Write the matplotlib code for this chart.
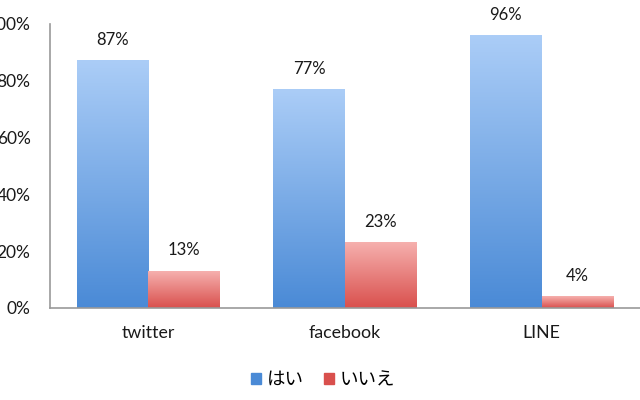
import numpy as np
import matplotlib.pyplot as plt
from matplotlib.patches import Patch
from matplotlib.colors import LinearSegmentedColormap

plt.rcParams['font.family'] = ['Lato', 'Noto Sans CJK JP', 'DejaVu Sans']

categories = ['twitter', 'facebook', 'LINE']
yes_values = [87, 77, 96]
no_values = [13, 23, 4]
series_names = ['はい', 'いいえ']
y_ticks = [0, 20, 40, 60, 80, 100]

blue_top, blue_bottom = '#abcdf7', '#4a8ad6'
red_top, red_bottom = '#f6b0ae', '#d9504d'

fig = plt.figure(figsize=(6.4, 4.0), dpi=100)
ax = fig.add_axes([50 / 640, 92 / 400, 590 / 640, 284 / 400])

x = np.arange(len(categories))
w = 0.365
bars_yes = ax.bar(x - w / 2, yes_values, w, color='none')
bars_no = ax.bar(x + w / 2, no_values, w, color='none')


def gradient_fill(bars, top, bottom):
    # vertical gradient inside each bar, like the Excel style
    cmap = LinearSegmentedColormap.from_list('g', [bottom, top])
    grad = np.linspace(0, 1, 256).reshape(-1, 1)
    for b in bars:
        x0, w0, h0 = b.get_x(), b.get_width(), b.get_height()
        ax.imshow(grad, extent=(x0, x0 + w0, 0, h0), origin='lower',
                  aspect='auto', cmap=cmap, zorder=2)


gradient_fill(bars_yes, blue_top, blue_bottom)
gradient_fill(bars_no, red_top, red_bottom)

for bars, vals in ((bars_yes, yes_values), (bars_no, no_values)):
    for b, v in zip(bars, vals):
        ax.text(b.get_x() + b.get_width() / 2, v + 4.5, f'{v}%',
                ha='center', va='bottom', fontsize=12, color='#1a1a1a')

ax.set_xlim(-0.5, len(categories) - 0.5)
ax.set_ylim(0, 100)
ax.set_yticks(y_ticks)
ax.set_yticklabels([f'{t}%' for t in y_ticks], fontsize=12.5)
ax.set_xticks(x)
ax.set_xticklabels(categories, fontsize=12.8)
ax.tick_params(length=0, colors='#1a1a1a')
ax.tick_params(axis='y', pad=14)
ax.tick_params(axis='x', pad=12)

for s in ['top', 'right']:
    ax.spines[s].set_visible(False)
for s in ['left', 'bottom']:
    ax.spines[s].set_color('#999999')
    ax.spines[s].set_linewidth(1.2)

handles = [Patch(color=blue_bottom), Patch(color=red_bottom)]
fig.legend(handles, series_names, loc='center', bbox_to_anchor=(0.505, 0.05),
           ncol=2, frameon=False, fontsize=13.3, handlelength=0.55,
           handleheight=0.55, handletextpad=0.3, columnspacing=1.1)

fig.savefig('out.png', dpi=100)
